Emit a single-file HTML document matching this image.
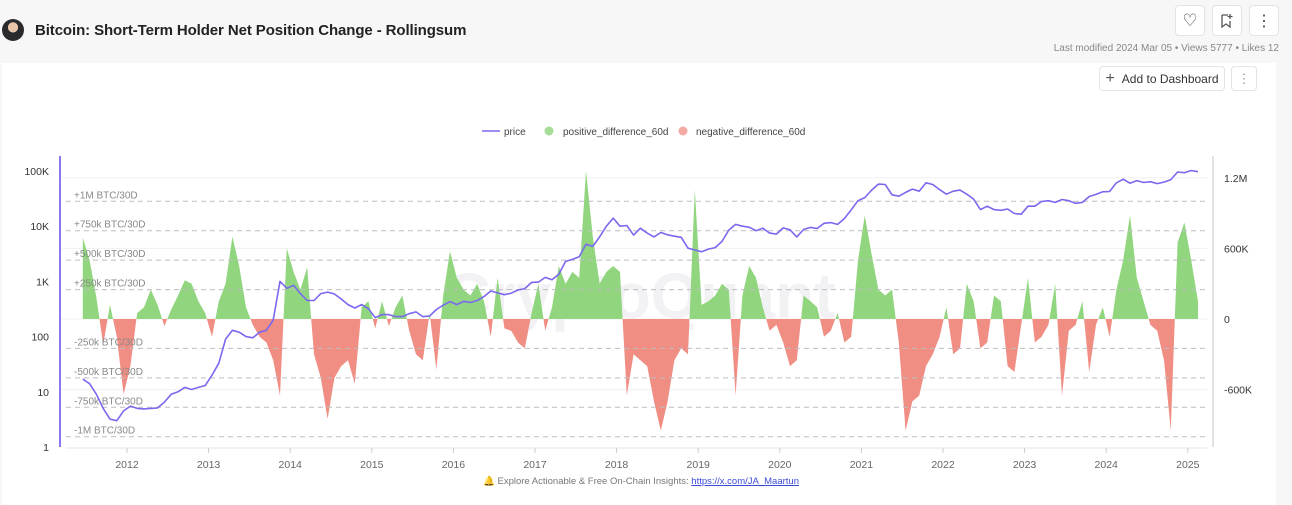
<!DOCTYPE html>
<html><head><meta charset="utf-8">
<style>
body{margin:0;width:1292px;height:505px;background:#f7f7f8;font-family:"Liberation Sans",sans-serif;position:relative;overflow:hidden}
.abs{position:absolute}
.btn{position:absolute;background:#fff;border:1px solid #e3e3e6;border-radius:4px;box-sizing:border-box;color:#444;display:flex;align-items:center;justify-content:center}
</style></head><body>
<div class="abs" style="left:2px;top:19px;width:22px;height:22px;border-radius:50%;background:radial-gradient(circle at 50% 38%,#e8c4a8 0 28%,#2a2a2e 30%);"></div>
<div class="abs" style="left:35px;top:22px;font-size:15px;font-weight:bold;color:#222;letter-spacing:-0.1px">Bitcoin: Short-Term Holder Net Position Change - Rollingsum</div>
<div class="btn" style="left:1175px;top:5px;width:30px;height:31px;font-size:17px;">♡</div>
<div class="btn" style="left:1212px;top:5px;width:30px;height:31px;">
<svg width="14" height="16" viewBox="0 0 14 16"><path d="M2 2h6M2 2v12l4-3 4 3V8M10 1v5M7.5 3.5h5" fill="none" stroke="#555" stroke-width="1.3"/></svg></div>
<div class="btn" style="left:1249px;top:5px;width:30px;height:31px;font-size:16px;">⋮</div>
<div class="abs" style="right:13px;top:43px;font-size:10px;color:#888;">Last modified 2024 Mar 05 • Views 5777 • Likes 12</div>
<div class="abs" style="left:2px;top:63px;width:1274px;height:442px;background:#fff;"></div>
<div class="btn" style="left:1099px;top:66px;width:126px;height:25px;font-size:12px;color:#333;"><span style="font-size:16px;margin-right:7px;color:#555">+</span>Add to Dashboard</div>
<div class="btn" style="left:1231px;top:66px;width:26px;height:25px;font-size:13px;color:#999;">⋮</div>

<svg class="abs" style="left:0;top:0" width="1292" height="505" id="chart"></svg>

<div class="abs" style="left:0;width:1292px;top:476px;text-align:center;font-size:9.5px;color:#777;padding-right:10px;box-sizing:border-box;"><span style="color:#f5b400">🔔</span> Explore Actionable &amp; Free On-Chain Insights: <a style="color:#3b4bd8;text-decoration:underline">https://x.com/JA_Maartun</a></div>

<script>
const startYear = 2011 + 5/12;
const priceValues = [17,14,9,5,3.2,3,4.5,
5.5,5,4.9,5,5.1,6.5,9,10,12,11,12,13,
20,33,90,130,120,100,95,120,130,200,1000,750,
850,600,450,450,600,640,590,480,380,330,380,320,
220,250,250,230,230,260,280,230,235,310,370,430,
380,435,415,450,530,670,620,575,610,700,740,960,
970,1180,1070,1350,2300,2500,2800,4700,4300,6400,10000,14000,
10000,10300,6900,9200,7500,6400,7700,7000,6600,6300,4000,3700,
3450,3850,4100,5300,8500,10800,10000,9600,8300,9200,7500,7200,
9300,8600,6400,8700,9500,9100,11300,11600,10800,13800,19700,29000,
33000,45000,58000,57000,37000,35000,41000,47000,43000,61000,57000,46000,
38000,43000,45000,38000,31000,20000,23000,20000,19400,20500,17000,16500,
23000,23000,28000,29000,27000,30500,29000,26000,27000,34500,37700,42000,
42500,61000,71000,60000,67000,62000,64000,59000,63000,70000,96000,93000,
102000,97000];
const netValues = [690,500,180,-220,120,-150,-640,
-400,50,100,250,120,-60,80,200,330,300,150,50,
-150,150,300,700,450,100,-50,-150,-200,-350,-650,600,
400,250,440,-300,-500,-850,-500,-400,-350,-550,100,150,
-80,150,-60,100,200,-100,-300,-350,50,-430,200,575,
350,250,200,300,150,-150,350,-80,-100,-200,-250,50,
300,-100,100,450,300,400,350,1260,700,300,400,450,
400,-650,-300,-350,-400,-700,-950,-700,-350,-250,-300,1100,
120,150,200,300,250,-650,200,450,350,100,-100,-50,
-200,-400,-350,200,150,100,-150,-100,50,-200,-150,500,
880,550,250,200,250,-200,-950,-700,-650,-400,-300,-150,
100,-300,-250,300,150,-250,-200,200,150,-400,-450,-50,
350,-200,-150,-50,300,-650,-100,-50,150,-450,-50,100,
-150,250,500,880,350,150,-50,-100,-350,-950,650,820,
500,150];
const leftTicks = ["1","10","100","1K","10K","100K"];
const rightTicks = ["-600K","0","600K","1.2M"];
const rightTickValues = [-600,0,600,1200];
const xTicks = [2012,2013,2014,2015,2016,2017,2018,2019,2020,2021,2022,2023,2024,2025];
const refLabels = ["+1M BTC/30D","+750k BTC/30D","+500k BTC/30D","+250k BTC/30D","-250k BTC/30D","-500k BTC/30D","-750k BTC/30D","-1M BTC/30D"];
const refValues = [1000,750,500,250,-250,-500,-750,-1000];

const svg = document.getElementById('chart');
const NS = 'http://www.w3.org/2000/svg';
const xOf = t => 127 + (t - 2012) * 81.6;
const yLeft = p => 447 - Math.log10(p) * 55.2;
const yRight = v => 319 - v * 0.1177;
function mk(tag, attrs){const e=document.createElementNS(NS,tag);for(const k in attrs)e.setAttribute(k,attrs[k]);svg.appendChild(e);return e;}

let wm = mk('text',{x:640,y:318,'text-anchor':'middle','font-size':64,fill:'#f2f2f5','font-family':'Liberation Sans, sans-serif','font-weight':'bold'});
wm.textContent='CryptoQuant';



rightTickValues.forEach(v=>{
  let l = mk('line',{x1:62,x2:1207,y1:yRight(v),y2:yRight(v),stroke:'#f0f0f2','stroke-width':1});
  
  
});

// areas built from monthly points, split at zero crossings
function areaPath(sign){
  const y0 = yRight(0);
  let d = '';
  const pts = netValues.map((v,i)=>[xOf(startYear + (i+0.5)/12), v]);
  d += 'M'+pts[0][0].toFixed(1)+' '+y0;
  for(let i=0;i<pts.length;i++){
    const [x,v] = pts[i];
    const vv = sign>0 ? Math.max(v,0) : Math.min(v,0);
    if(i>0){
      const [px,pv] = pts[i-1];
      if((pv>0)!==(v>0)){
        const xc = px + (x-px)*(pv/(pv-v));
        d += 'L'+xc.toFixed(1)+' '+y0;
      }
    }
    d += 'L'+x.toFixed(1)+' '+yRight(vv).toFixed(1);
  }
  d += 'L'+pts[pts.length-1][0].toFixed(1)+' '+y0+'Z';
  return d;
}
let ga = mk('path',{d:areaPath(1),fill:'#91d67f'});


let na = mk('path',{d:areaPath(-1),fill:'#f08e84'});



refValues.forEach((v,i)=>{
  const y = yRight(v);
  let l = mk('line',{x1:66,x2:1207,y1:y,y2:y,stroke:'#bdbdc4','stroke-width':1,'stroke-dasharray':'5,4'});
  
  
  let tx = mk('text',{x:74,y:y-3,'font-size':10,fill:'#888'});
  tx.textContent = refLabels[i];
  
  
});

let d='';
priceValues.forEach((p,i)=>{const t=startYear+i/12+0.5/12;d+=(i?'L':'M')+xOf(t).toFixed(1)+' '+yLeft(p).toFixed(1);});
let pl = mk('path',{d:d,fill:'none',stroke:'#7b68ee','stroke-width':1.6,'stroke-linejoin':'round'});



let la = mk('line',{x1:60,x2:60,y1:156,y2:447,stroke:'#8a78f0','stroke-width':2});


let ra = mk('line',{x1:1213,x2:1213,y1:156,y2:447,stroke:'#d8d8dc','stroke-width':1.5});


let xa = mk('line',{x1:66,x2:1207,y1:448,y2:448,stroke:'#e4e4e8','stroke-width':1});



leftTicks.forEach((s,i)=>{
  let t = mk('text',{x:49,y:447-i*55.2+4,'text-anchor':'end','font-size':10.5,fill:'#333'});
  t.textContent=s;
  
  
});
rightTicks.forEach((s,i)=>{
  let t = mk('text',{x:1224,y:yRight(rightTickValues[i])+4,'font-size':10.5,fill:'#333'});
  t.textContent=s;
  
  
});
xTicks.forEach(yr=>{
  const x=xOf(yr);
  let tk = mk('line',{x1:x,x2:x,y1:448,y2:453,stroke:'#ccc'});
  
  
  let t = mk('text',{x:x,y:468,'text-anchor':'middle','font-size':10.5,fill:'#666'});
  t.textContent=yr;
  
  
});

let g1 = mk('line',{x1:482,x2:500,y1:131,y2:131,stroke:'#7b68ee','stroke-width':1.6});


let l1 = mk('text',{x:504,y:135,'font-size':10,fill:'#444'}); l1.textContent='price';


let c2 = mk('circle',{cx:549,cy:131,r:4.5,fill:'#a8dd98'});


let l2 = mk('text',{x:563,y:135,'font-size':10,fill:'#444'}); l2.textContent='positive_difference_60d';


let c3 = mk('circle',{cx:683,cy:131,r:4.5,fill:'#f3aaa2'});


let l3 = mk('text',{x:696,y:135,'font-size':10,fill:'#444'}); l3.textContent='negative_difference_60d';


</script>
</body></html>
